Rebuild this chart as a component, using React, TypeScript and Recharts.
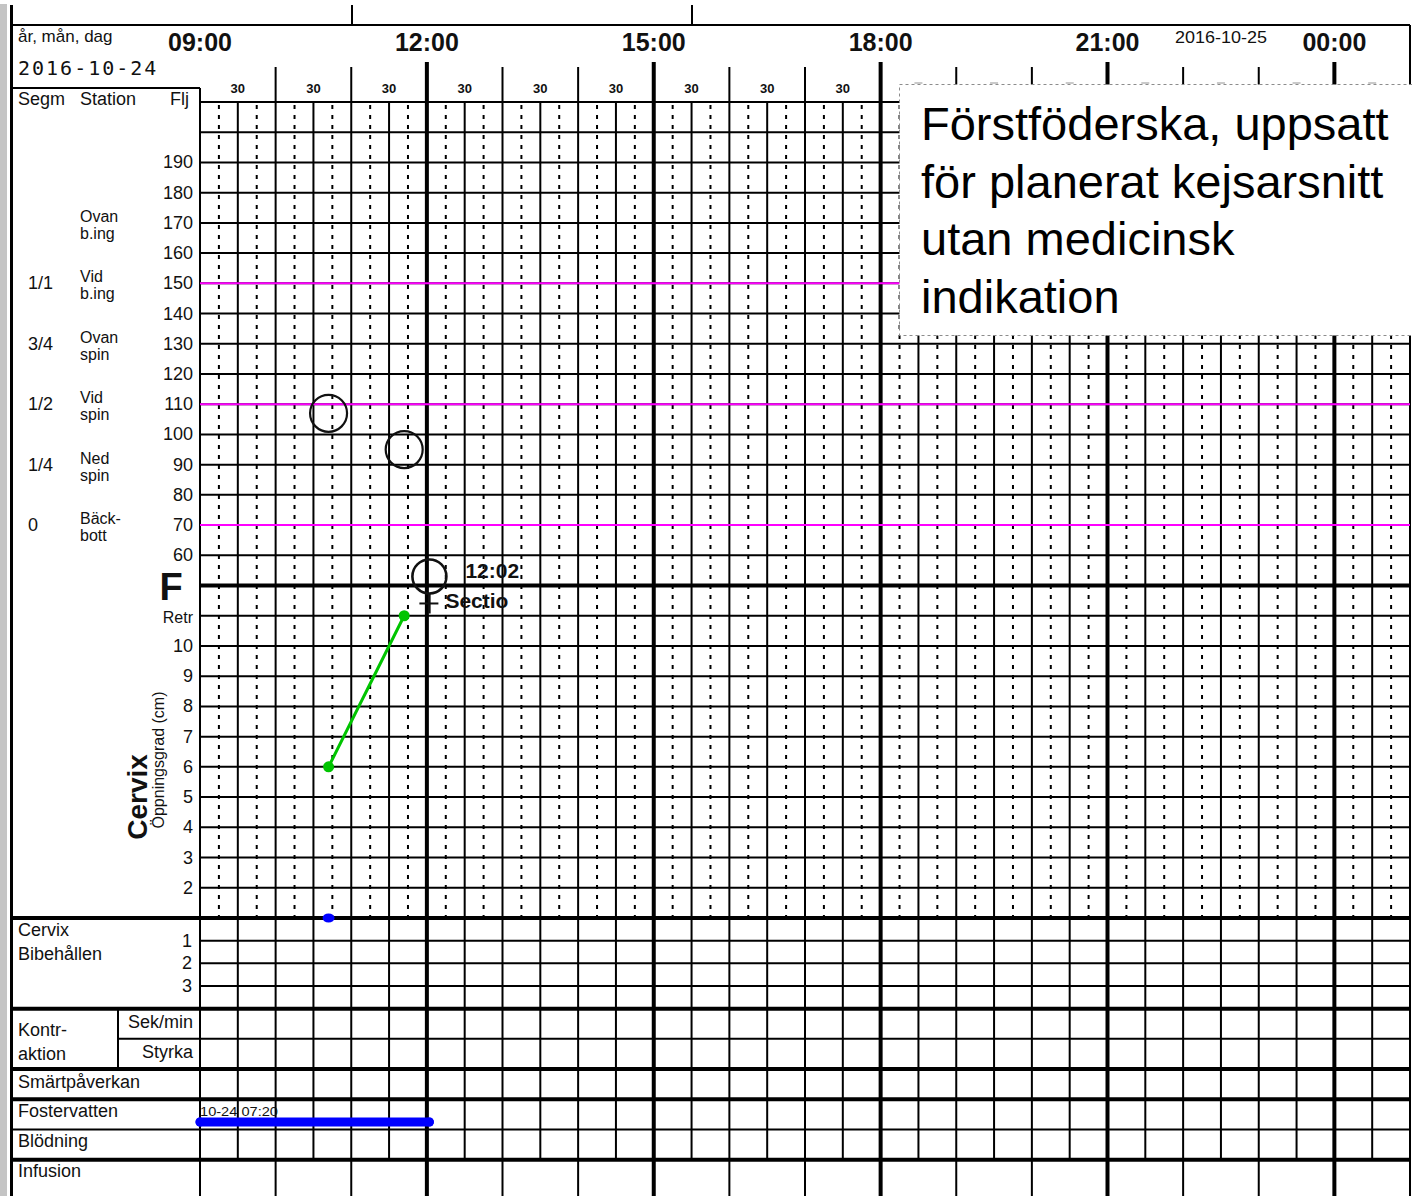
import React from "react";
import { ComposedChart, XAxis, YAxis, Scatter, ReferenceLine } from "recharts";

// ---------- data ----------
const dates = ["2016-10-24", "2016-10-25"];
const hourLabelTimes = [9, 12, 15, 18, 21, 24];

const fhrTicks = [190, 180, 170, 160, 150, 140, 130, 120, 110, 100, 90, 80, 70, 60];
const segmLevels = [150, 130, 110, 90, 70];
const segmNames = ["1/1", "3/4", "1/2", "1/4", "0"];
const stationLevels = [170, 150, 130, 110, 90, 70];
const stationNames = [
  ["Ovan", "b.ing"],
  ["Vid", "b.ing"],
  ["Ovan", "spin"],
  ["Vid", "spin"],
  ["Ned", "spin"],
  ["Bäck-", "bott"],
];
const alertLevels = [150, 110, 70];
const cervixTicks = [10, 9, 8, 7, 6, 5, 4, 3, 2];
const bibehallenTicks = [1, 2, 3];

// observations (time in hours from 2016-10-24 00:00)
const cervixTimes = [10.7, 11.7];
const cervixCm = [6, 11];
const stationTimes = [10.7, 11.7];
const stationValues = [107, 95];
const deliveryTimes = [12 + 2 / 60];
const deliveryValues = [53];
const deliveryLabels = ["12:02"];
const deliveryModes = ["Sectio"];
const bibehallenTimes = [10.7];
const bibehallenValues = [0];
const fostervattenTimes = [9, 12 + 2 / 60]; // avgång 07:20, klippt vid diagrammets start
const fostervattenLabel = "10-24 07:20";

const noteLines = [
  "Förstföderska, uppsatt",
  "för planerat kejsarsnitt",
  "utan medicinsk",
  "indikation",
];

// ---------- layout ----------
const W = 1412;
const H = 1196;
const PLOT_LEFT = 200;
const PLOT_RIGHT = 1410;
const PLOT_TOP = 102;
const T_MIN = 9;
const T_MAX = 25;
const Y_MIN = -152;
const Y_MAX = 210;
const pxPerHour = (PLOT_RIGHT - PLOT_LEFT) / (T_MAX - T_MIN);
const pxPerUnit = (H - PLOT_TOP) / (Y_MAX - Y_MIN);
const tAtPx = (px: number) => T_MIN + (px - PLOT_LEFT) / pxPerHour;
const vAtPy = (py: number) => Y_MAX - (py - PLOT_TOP) / pxPerUnit;

const cervixAxis = (c: number) => (c - 7) * 10;
const bibAxis = (b: number) => -60 - b * 7.5;
const FOSTERVATTEN_ROW = -127.5;
const DAY2_LABEL_T = 22.5;

const FONT = "'Liberation Sans', Arial, sans-serif";
const MONO = "'DejaVu Sans Mono', 'Liberation Mono', monospace";
const INK = "#111";
const GREEN = "#00c400";
const BLUE = "#0000ff";
const MAGENTA = "#ff00ff";

const fmtHour = (t: number) => `${String(t % 24).padStart(2, "0")}:00`;

function XTick(props: any) {
  const { x, payload } = props;
  const t: number = payload.value;
  const out: React.ReactNode[] = [];
  if (hourLabelTimes.includes(t)) {
    out.push(
      <text key="h" x={x} y={51} textAnchor="middle" fontFamily={FONT} fontWeight="bold" fontSize={25} fill={INK}>
        {fmtHour(t)}
      </text>
    );
  }
  if (!Number.isInteger(t)) {
    if (t < 18) {
      out.push(
        <text key="m" x={x} y={93} textAnchor="middle" fontFamily={FONT} fontWeight="bold" fontSize={13} fill={INK}>
          {String(Math.round((t % 1) * 60))}
        </text>
      );
    } else {
      out.push(<line key="m" x1={x - 4} x2={x + 4} y1={83} y2={83} stroke="#b8b8b8" strokeWidth={1.5} />);
    }
  }
  if (t === DAY2_LABEL_T) {
    out.push(
      <text key="d" x={x - 46} y={43} fontFamily={FONT} fontSize={17} fill={INK} textLength={92} lengthAdjust="spacingAndGlyphs">
        {dates[1]}
      </text>
    );
  }
  return <g>{out}</g>;
}

function YTick(props: any) {
  const { y, payload } = props;
  const v: number = payload.value;
  const out: React.ReactNode[] = [];
  const t = (key: string, x: number, yy: number, s: string, anchor = "start", extra: any = {}) =>
    out.push(
      <text key={key} x={x} y={yy} textAnchor={anchor} fontFamily={FONT} fontSize={18} fill={INK} {...extra}>
        {s}
      </text>
    );

  if (fhrTicks.includes(v)) t("f", 193, y + 6, String(v), "end");
  const si = segmLevels.indexOf(v);
  if (si >= 0) t("s", 28, y + 6, segmNames[si]);
  const st = stationLevels.indexOf(v);
  if (st >= 0) {
    t("st1", 80, y - 1, stationNames[st][0], "start", { fontSize: 16 });
    t("st2", 80, y + 16, stationNames[st][1], "start", { fontSize: 16 });
  }
  if (v === 50) t("F", 171, y + 14, "F", "middle", { fontSize: 38, fontWeight: "bold" });
  if (v === cervixAxis(11)) t("r", 193, y + 7, "Retr", "end", { fontSize: 16 });
  const ci = cervixTicks.findIndex((c) => cervixAxis(c) === v);
  if (ci >= 0) t("c", 193, y + 6, String(cervixTicks[ci]), "end");
  if (v === -60) {
    t("cb1", 18, y + 18, "Cervix");
    t("cb2", 18, y + 42, "Bibehållen");
  }
  const bi = bibehallenTicks.findIndex((b) => bibAxis(b) === v);
  if (bi >= 0) t("b", 192, y + 6, String(bibehallenTicks[bi]), "end");
  if (v === -90) {
    t("k1", 18, y + 27, "Kontr-");
    t("k2", 18, y + 51, "aktion");
    t("k3", 193, y + 19, "Sek/min", "end");
  }
  if (v === -100) t("k4", 193, y + 19, "Styrka", "end");
  if (v === -110) t("r1", 18, y + 19, "Smärtpåverkan");
  if (v === -120) t("r2", 18, y + 18, "Fostervatten");
  if (v === -130) t("r3", 18, y + 17, "Blödning");
  if (v === -140) t("r4", 18, y + 17, "Infusion");
  return <g>{out}</g>;
}

const ringShape = (p: any) => (
  <circle cx={p.cx} cy={p.cy} r={18.5} fill="none" stroke={INK} strokeWidth={2.2} />
);

const deliveryShape = (p: any) => (
  <g>
    <circle cx={p.cx} cy={p.cy} r={17} fill="none" stroke={INK} strokeWidth={2.6} />
    <line x1={p.cx} x2={p.cx} y1={p.cy + 17} y2={p.cy + 37} stroke={INK} strokeWidth={2.5} />
    <line x1={p.cx - 10} x2={p.cx + 9} y1={p.cy + 27} y2={p.cy + 27} stroke={INK} strokeWidth={2} />
    <text x={p.cx + 36} y={p.cy + 2} fontFamily={FONT} fontWeight="bold" fontSize={21} fill={INK}>
      {p.payload.label}
    </text>
    <text x={p.cx + 16} y={p.cy + 32} fontFamily={FONT} fontWeight="bold" fontSize={21} fill={INK}>
      {p.payload.mode}
    </text>
  </g>
);

const cervixDot = (p: any) => <circle cx={p.cx} cy={p.cy} r={5.5} fill={GREEN} />;
const bibDot = (p: any) => <ellipse cx={p.cx} cy={p.cy} rx={6} ry={4.5} fill={BLUE} />;
const amnioShape = (p: any) => (
  <g>
    <circle cx={p.cx} cy={p.cy} r={4.5} fill={BLUE} />
    {p.payload.label ? (
      <text x={p.cx} y={p.cy - 6} fontFamily={FONT} fontSize={13} fill={INK} textLength={78} lengthAdjust="spacingAndGlyphs">
        {p.payload.label}
      </text>
    ) : null}
  </g>
);

export default function App() {
  const halfHours: number[] = [];
  for (let i = 0; i <= (T_MAX - T_MIN) * 2; i++) halfHours.push(T_MIN + i / 2);

  const yTicks = [
    ...fhrTicks,
    50,
    ...[11, ...cervixTicks].map(cervixAxis),
    -60,
    ...bibehallenTicks.map(bibAxis),
    -90,
    -100,
    -110,
    -120,
    -130,
    -140,
  ];

  const cervixData = cervixTimes.map((t, i) => ({ t, v: cervixAxis(cervixCm[i]) }));
  const stationData = stationTimes.map((t, i) => ({ t, v: stationValues[i] }));
  const deliveryData = deliveryTimes.map((t, i) => ({
    t,
    v: deliveryValues[i],
    label: deliveryLabels[i],
    mode: deliveryModes[i],
  }));
  const bibData = bibehallenTimes.map((t, i) => ({ t, v: bibAxis(bibehallenValues[i]) }));
  const amnioData = fostervattenTimes.map((t, i) => ({
    t,
    v: FOSTERVATTEN_ROW,
    label: i === 0 ? fostervattenLabel : "",
  }));

  const lines: React.ReactNode[] = [];
  const seg = (key: string, x1: number, y1: number, x2: number, y2: number, w: number, extra: any = {}) =>
    lines.push(
      <ReferenceLine
        key={key}
        segment={[{ x: x1, y: y1 }, { x: x2, y: y2 }]}
        ifOverflow="visible"
        stroke="#000"
        strokeWidth={w}
        {...extra}
      />
    );

  // vertical grid
  halfHours.forEach((t) => {
    const whole = Number.isInteger(t);
    const thick = whole && t % 3 === 0 && t !== T_MIN;
    let top = Y_MAX;
    if (t === T_MIN) top = vAtPy(88);
    else if (t === T_MAX) top = vAtPy(25);
    else if (thick) top = vAtPy(62);
    else if (whole) top = vAtPy(67);
    const bottom = whole ? Y_MIN : -140;
    seg(`v${t}`, t, top, t, bottom, thick ? 4 : 2);
    if (t < T_MAX) {
      seg(`d${t}`, t + 0.25, Y_MAX, t + 0.25, -60, 2, { strokeDasharray: "4 6", strokeDashoffset: -3 });
    }
  });

  // horizontal grid
  for (let v = Y_MAX; v >= -50; v -= 10) seg(`h${v}`, T_MIN, v, T_MAX, v, v === 50 ? 4 : 2);
  bibehallenTicks.forEach((b) => seg(`hb${b}`, T_MIN, bibAxis(b), T_MAX, bibAxis(b), 2));
  [-60, -90, -110, -120, -140].forEach((v) => seg(`hp${v}`, tAtPx(12), v, T_MAX, v, 4));
  seg("hp-130", tAtPx(12), -130, T_MAX, -130, 2);
  seg("hp-100", tAtPx(118), -100, T_MAX, -100, 2);
  seg("vk", tAtPx(118), -90, tAtPx(118), -110, 2);

  return (
    <div style={{ position: "absolute", left: 0, top: 0, width: W, height: H, background: "#fff", overflow: "hidden" }}>
      <svg width={W} height={H} style={{ position: "absolute", left: 0, top: 0 }}>
        <rect x={0} y={4} width={7} height={H - 4} fill="#c4c4c4" />
        <line x1={11.5} y1={5} x2={11.5} y2={H} stroke="#000" strokeWidth={3} />
        <line x1={12} y1={25} x2={PLOT_RIGHT} y2={25} stroke="#000" strokeWidth={2} />
        <line x1={352} y1={5} x2={352} y2={25} stroke="#000" strokeWidth={2} />
        <line x1={692} y1={5} x2={692} y2={25} stroke="#000" strokeWidth={2} />
        <line x1={12} y1={88} x2={PLOT_LEFT} y2={88} stroke="#000" strokeWidth={2} />
        <text x={18} y={42} fontFamily={FONT} fontSize={17} fill={INK}>
          år, mån, dag
        </text>
        <text x={18} y={75} fontFamily={MONO} fontSize={20} letterSpacing={2} fill={INK}>
          {dates[0]}
        </text>
        <text x={18} y={105} fontFamily={FONT} fontSize={18} fill={INK}>
          Segm
        </text>
        <text x={80} y={105} fontFamily={FONT} fontSize={18} fill={INK}>
          Station
        </text>
        <text x={189} y={105} textAnchor="end" fontFamily={FONT} fontSize={18} fill={INK}>
          Flj
        </text>
        <text
          transform="translate(147,797) rotate(-90)"
          textAnchor="middle"
          fontFamily={FONT}
          fontWeight="bold"
          fontSize={28}
          fill={INK}
        >
          Cervix
        </text>
        <text transform="translate(164,760) rotate(-90)" textAnchor="middle" fontFamily={FONT} fontSize={16} fill={INK}>
          Öppningsgrad (cm)
        </text>
      </svg>

      <div style={{ position: "absolute", left: 0, top: 0 }}>
        <ComposedChart width={W} height={H} margin={{ top: 2, right: W - PLOT_RIGHT, bottom: 0, left: 0 }}>
          <XAxis
            type="number"
            dataKey="t"
            domain={[T_MIN, T_MAX]}
            ticks={halfHours}
            interval={0}
            orientation="top"
            height={PLOT_TOP - 2}
            axisLine={false}
            tickLine={false}
            tick={(p: any) => <XTick {...p} />}
          />
          <YAxis
            type="number"
            dataKey="v"
            domain={[Y_MIN, Y_MAX]}
            ticks={yTicks}
            interval={0}
            width={PLOT_LEFT}
            axisLine={false}
            tickLine={false}
            tick={(p: any) => <YTick {...p} />}
          />
          {lines}
          {alertLevels.map((v) => (
            <ReferenceLine key={`a${v}`} y={v} stroke={MAGENTA} strokeWidth={2} />
          ))}
          <Scatter
            data={amnioData}
            fill={BLUE}
            line={{ stroke: BLUE, strokeWidth: 9, strokeLinecap: "round" }}
            shape={amnioShape}
            isAnimationActive={false}
          />
          <Scatter
            data={cervixData}
            fill={GREEN}
            line={{ stroke: GREEN, strokeWidth: 3 }}
            shape={cervixDot}
            isAnimationActive={false}
          />
          <Scatter data={stationData} fill={INK} shape={ringShape} isAnimationActive={false} />
          <Scatter data={deliveryData} fill={INK} shape={deliveryShape} isAnimationActive={false} />
          <Scatter data={bibData} fill={BLUE} shape={bibDot} isAnimationActive={false} />
        </ComposedChart>
      </div>

      <svg width={W} height={H} style={{ position: "absolute", left: 0, top: 0, pointerEvents: "none" }}>
        <rect x={899.5} y={84.5} width={520} height={251} fill="#fff" stroke="#8c8c8c" strokeWidth={1} strokeDasharray="3 3" />
        {noteLines.map((s, i) => (
          <text key={i} x={921} y={140 + i * 57.5} fontFamily={FONT} fontSize={47} fill="#000">
            {s}
          </text>
        ))}
      </svg>
    </div>
  );
}
